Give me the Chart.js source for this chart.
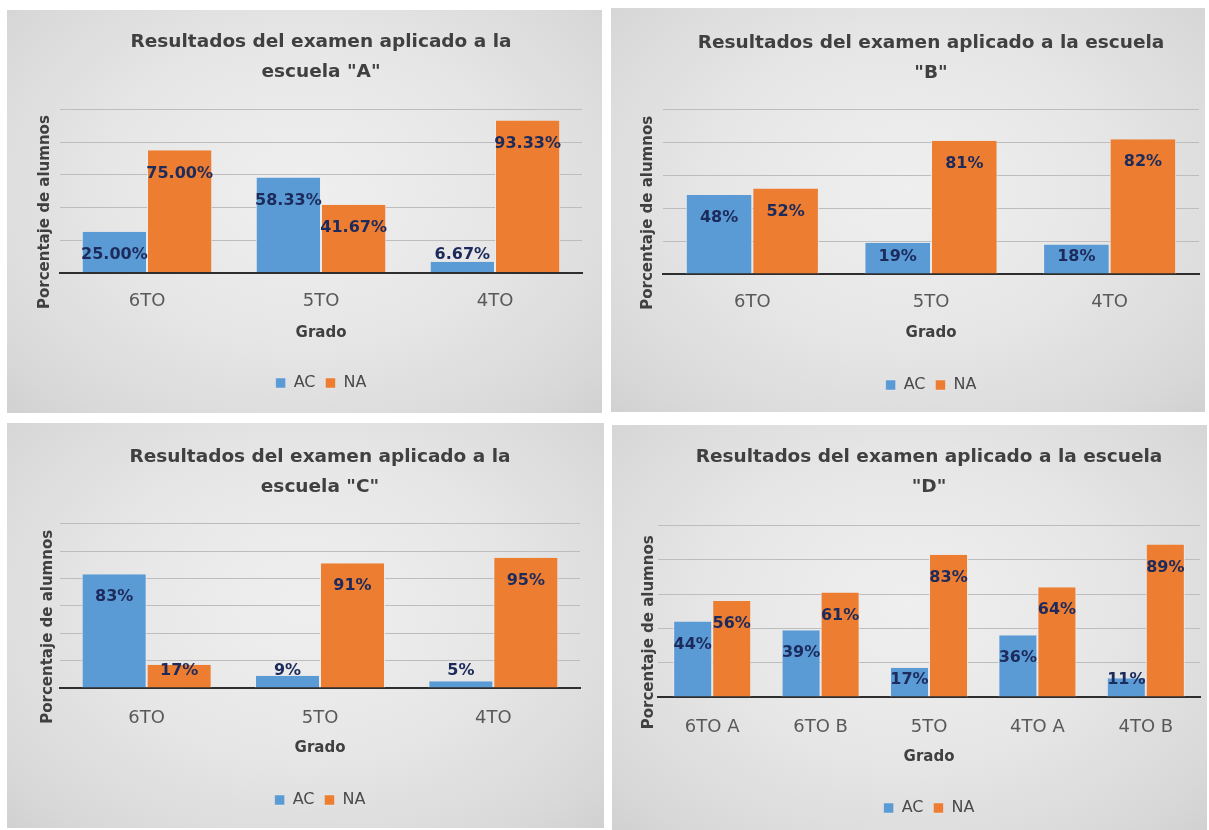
<!DOCTYPE html>
<html>
<head>
<meta charset="utf-8">
<script src="https://cdn.jsdelivr.net/npm/chart.js@4/dist/chart.umd.min.js"></script>
<style>
  html, body { margin:0; padding:0; background:#ffffff; width:1209px; height:830px; overflow:hidden; }
  .panel { position:absolute; background: radial-gradient(ellipse at 50% 45%, #efefef 0%, #e7e7e7 45%, #d9d9d9 85%, #d1d1d1 100%); }
  .panel canvas { display:block; }
</style>
</head>
<body>
<div class="panel" id="pA" style="left:7px;top:10px;width:595px;height:403px;"><canvas id="cA"></canvas></div>
<div class="panel" id="pB" style="left:611px;top:8px;width:594px;height:404px;"><canvas id="cB"></canvas></div>
<div class="panel" id="pC" style="left:7px;top:423px;width:597px;height:405px;"><canvas id="cC"></canvas></div>
<div class="panel" id="pD" style="left:612px;top:425px;width:595px;height:405px;"><canvas id="cD"></canvas></div>
<script>
// ---------- DATA ----------
const seriesNames = ["AC", "NA"];
const yAxisTitle = "Porcentaje de alumnos";
const xAxisTitle = "Grado";

const titleA = ["Resultados del examen aplicado a la", "escuela \"A\""];
const categoriesA = ["6TO", "5TO", "4TO"];
const acA = [25.00, 58.33, 6.67];
const naA = [75.00, 41.67, 93.33];
const decimalsA = 2;
const yMaxA = 100;

const titleB = ["Resultados del examen aplicado a la escuela", "\"B\""];
const categoriesB = ["6TO", "5TO", "4TO"];
const acB = [48, 19, 18];
const naB = [52, 81, 82];
const decimalsB = 0;
const yMaxB = 100;

const titleC = ["Resultados del examen aplicado a la", "escuela \"C\""];
const categoriesC = ["6TO", "5TO", "4TO"];
const acC = [83, 9, 5];
const naC = [17, 91, 95];
const decimalsC = 0;
const yMaxC = 120;

const titleD = ["Resultados del examen aplicado a la escuela", "\"D\""];
const categoriesD = ["6TO A", "6TO B", "5TO", "4TO A", "4TO B"];
const acD = [44, 39, 17, 36, 11];
const naD = [56, 61, 83, 64, 89];
const decimalsD = 0;
const yMaxD = 100;

const yStep = 20;

// ---------- STYLE ----------
const colorAC = "#5B9BD5";
const colorNA = "#ED7D31";
const FONT = "'DejaVu Sans', 'Noto Sans', sans-serif";
Chart.defaults.font.family = FONT;

const barLabelPlugin = {
  id: 'barLabels',
  afterDatasetsDraw(chart, args, opts) {
    const ctx = chart.ctx;
    ctx.save();
    ctx.font = "bold 16px " + FONT;
    ctx.fillStyle = "#1c2a5c";
    ctx.textAlign = "center";
    ctx.textBaseline = "middle";
    chart.data.datasets.forEach((ds, i) => {
      const meta = chart.getDatasetMeta(i);
      meta.data.forEach((bar, j) => {
        const y = Math.min(bar.y + 23, bar.base - 17);
        ctx.fillText(ds.data[j].toFixed(opts.decimals) + "%", bar.x, y);
      });
    });
    ctx.restore();
  }
};

const yTitlePlugin = {
  id: 'yTitle',
  afterDraw(chart, args, opts) {
    const ctx = chart.ctx;
    const a = chart.chartArea;
    ctx.save();
    ctx.translate(a.left - opts.offset, (a.top + a.bottom) / 2 + 21);
    ctx.rotate(-Math.PI / 2);
    ctx.font = "bold 15px " + FONT;
    ctx.fillStyle = "#404040";
    ctx.textAlign = "center";
    ctx.textBaseline = "middle";
    ctx.fillText(yAxisTitle, 0, 0);
    ctx.restore();
  }
};

function makeChart(id, title, cats, ac, na, yMax, decimals, L) {
  return new Chart(document.getElementById(id), {
    type: 'bar',
    data: {
      labels: cats,
      datasets: [
        { label: seriesNames[0], data: ac, backgroundColor: colorAC,
          borderColor: "rgba(235,235,235,0.9)", borderWidth: {left:1, right:1, top:0, bottom:0}, borderSkipped: false },
        { label: seriesNames[1], data: na, backgroundColor: colorNA,
          borderColor: "rgba(235,235,235,0.9)", borderWidth: {left:1, right:1, top:0, bottom:0}, borderSkipped: false }
      ]
    },
    options: {
      responsive: true,
      maintainAspectRatio: false,
      animation: false,
      events: [],
      datasets: { bar: { categoryPercentage: L.cat, barPercentage: 1.0 } },
      layout: { padding: { left: L.left, right: L.right, top: 0, bottom: L.bottom } },
      plugins: {
        title: {
          display: true, text: title, color: "#404040",
          font: { size: 18.5, weight: 'bold', lineHeight: 1.6 },
          padding: { top: L.tTop, bottom: L.tBottom }
        },
        legend: {
          display: true, position: 'bottom',
          labels: { boxWidth: 10, boxHeight: 10, padding: 10, color: "#4a4a4a", font: { size: 16 } }
        },
        tooltip: { enabled: false },
        barLabels: { decimals: decimals },
        yTitle: { offset: L.yOff }
      },
      scales: {
        x: {
          grid: { display: false, drawTicks: false },
          border: { display: true, color: "#2e2e2e", width: 2 },
          ticks: { color: "#595959", font: { size: 18 }, padding: L.tickPad },
          title: { display: true, text: xAxisTitle, color: "#404040",
                   font: { size: 15, weight: 'bold' }, padding: { top: L.gTop, bottom: L.gBottom } }
        },
        y: {
          min: 0, max: yMax,
          grid: { color: "#bdbdbd", lineWidth: 1, drawTicks: false },
          border: { display: false },
          ticks: { display: false, stepSize: yStep }
        }
      }
    },
    plugins: [barLabelPlugin, yTitlePlugin]
  });
}

makeChart('cA', titleA, categoriesA, acA, naA, yMaxA, decimalsA,
  { left: 53, right: 20, bottom: 12, tTop: 17.6, tBottom: 22.8, tickPad: 18.2, gTop: -6.6, gBottom: 23, cat: 0.75, yOff: 15 });
makeChart('cB', titleB, categoriesB, acB, naB, yMaxB, decimalsB,
  { left: 52, right: 6, bottom: 9, tTop: 20.6, tBottom: 21.8, tickPad: 17.2, gTop: -6, gBottom: 25, cat: 0.745, yOff: 15 });
makeChart('cC', titleC, categoriesC, acC, naC, yMaxC, decimalsC,
  { left: 53, right: 24, bottom: 10, tTop: 19.6, tBottom: 21.8, tickPad: 19.2, gTop: -9, gBottom: 25, cat: 0.75, yOff: 12 });
makeChart('cD', titleD, categoriesD, acD, naD, yMaxD, decimalsD,
  { left: 46, right: 7, bottom: 4, tTop: 17.6, tBottom: 23.8, tickPad: 19.2, gTop: -9, gBottom: 24, cat: 0.72, yOff: 9 });
</script>
</body>
</html>
